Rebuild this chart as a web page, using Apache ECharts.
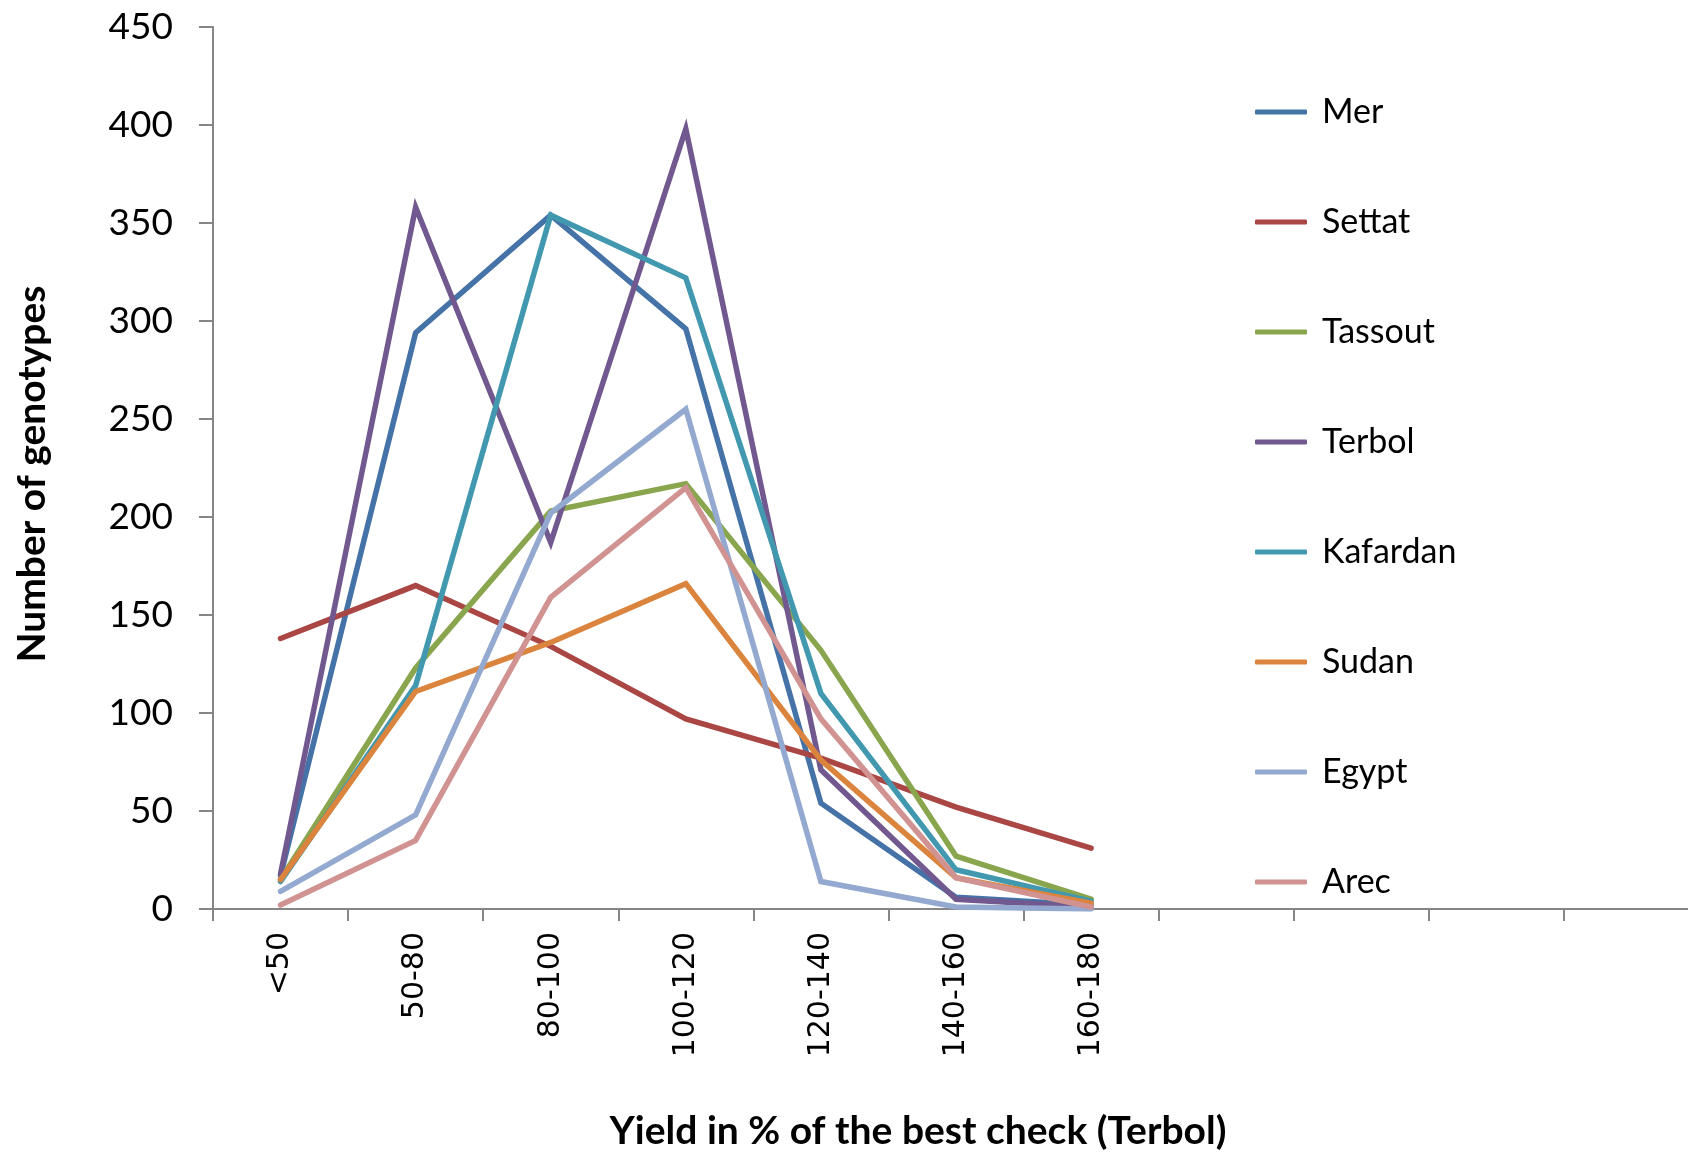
<!DOCTYPE html>
<html>
<head>
<meta charset="utf-8">
<title>Number of genotypes by yield class</title>
<script src="https://cdn.jsdelivr.net/npm/echarts@6/dist/echarts.min.js"></script>
<style>
  html, body { margin: 0; padding: 0; background: #ffffff; }
  #chart { width: 1688px; height: 1152px; }
</style>
</head>
<body>
<div id="chart"></div>
<script>
// Yield classes (% of the best check); trailing slots are empty classes on the axis
const categories = ['<50', '50-80', '80-100', '100-120', '120-140', '140-160', '160-180', '', '', '', ''];

// Number of genotypes per yield class, by location
const mer      = [17, 294, 354, 296, 54, 6, 2];
const settat   = [138, 165, 134, 97, 77, 52, 31];
const tassout  = [15, 123, 203, 217, 132, 27, 5];
const terbol   = [18, 358, 187, 398, 71, 5, 1];
const kafardan = [14, 114, 354, 322, 110, 20, 4];
const sudan    = [15, 111, 136, 166, 76, 16, 3];
const egypt    = [9, 48, 202, 255, 14, 1, 0];
const arec     = [2, 35, 159, 215, 97, 16, 1];

const seriesNames  = ['Mer', 'Settat', 'Tassout', 'Terbol', 'Kafardan', 'Sudan', 'Egypt', 'Arec'];
const seriesValues = [mer, settat, tassout, terbol, kafardan, sudan, egypt, arec];
const seriesColors = ['#4572A7', '#AA4643', '#89A54E', '#71588F', '#4198AF', '#DB843D', '#93A9CF', '#D19392'];

// y-axis ticks
const yMin = 0, yMax = 450, yStep = 50;

const axisGrey = '#868686';
const chart = echarts.init(document.getElementById('chart'), null, { renderer: 'canvas' });

chart.setOption({
  animation: false,
  backgroundColor: '#ffffff',
  // the category axis runs past the right edge of the page
  grid: { left: 213, width: 1486, top: 27, bottom: 243, containLabel: false, outerBoundsMode: 'none' },
  legend: {
    orient: 'vertical',
    left: 1250,
    top: 87,
    itemGap: 70,
    itemWidth: 52,
    itemHeight: 5,
    icon: 'roundRect',
    selectedMode: false,
    textStyle: {
      fontFamily: 'Lato',
      fontSize: 34,
      color: '#000000',
      lineHeight: 40,
      padding: [0, 0, 0, 10]
    },
    data: seriesNames
  },
  xAxis: {
    type: 'category',
    data: categories,
    boundaryGap: true,
    axisLine: { lineStyle: { color: axisGrey, width: 2 } },
    axisTick: { show: true, interval: 0, length: 12, lineStyle: { color: axisGrey, width: 2 } },
    axisLabel: {
      interval: 0,
      rotate: 90,
      margin: 23,
      fontFamily: 'DejaVu Sans',
      fontSize: 30,
      color: '#000000'
    },
    splitLine: { show: false }
  },
  yAxis: {
    type: 'value',
    min: yMin,
    max: yMax,
    interval: yStep,
    axisLine: { show: true, lineStyle: { color: axisGrey, width: 2 } },
    axisTick: { show: true, length: 14, lineStyle: { color: axisGrey, width: 2 } },
    axisLabel: {
      margin: 40,
      fontFamily: 'Lato',
      fontSize: 37,
      color: '#000000'
    },
    splitLine: { show: false }
  },
  graphic: [
    {
      type: 'text',
      x: 32,
      y: 474,
      rotation: Math.PI / 2,
      style: {
        text: 'Number of genotypes',
        fontFamily: 'Lato',
        fontWeight: 'bold',
        fontSize: 39,
        fill: '#000000',
        align: 'center',
        verticalAlign: 'middle'
      }
    },
    {
      type: 'text',
      x: 918,
      y: 1131,
      style: {
        text: 'Yield in % of the best check (Terbol)',
        fontFamily: 'Lato',
        fontWeight: 'bold',
        fontSize: 39,
        fill: '#000000',
        align: 'center',
        verticalAlign: 'middle'
      }
    }
  ],
  series: seriesNames.map((name, i) => ({
    name: name,
    type: 'line',
    data: seriesValues[i],
    symbol: 'none',
    smooth: false,
    color: seriesColors[i],
    lineStyle: { color: seriesColors[i], width: 5.5, join: 'miter', cap: 'round' },
    emphasis: { disabled: true }
  }))
});
</script>
</body>
</html>
